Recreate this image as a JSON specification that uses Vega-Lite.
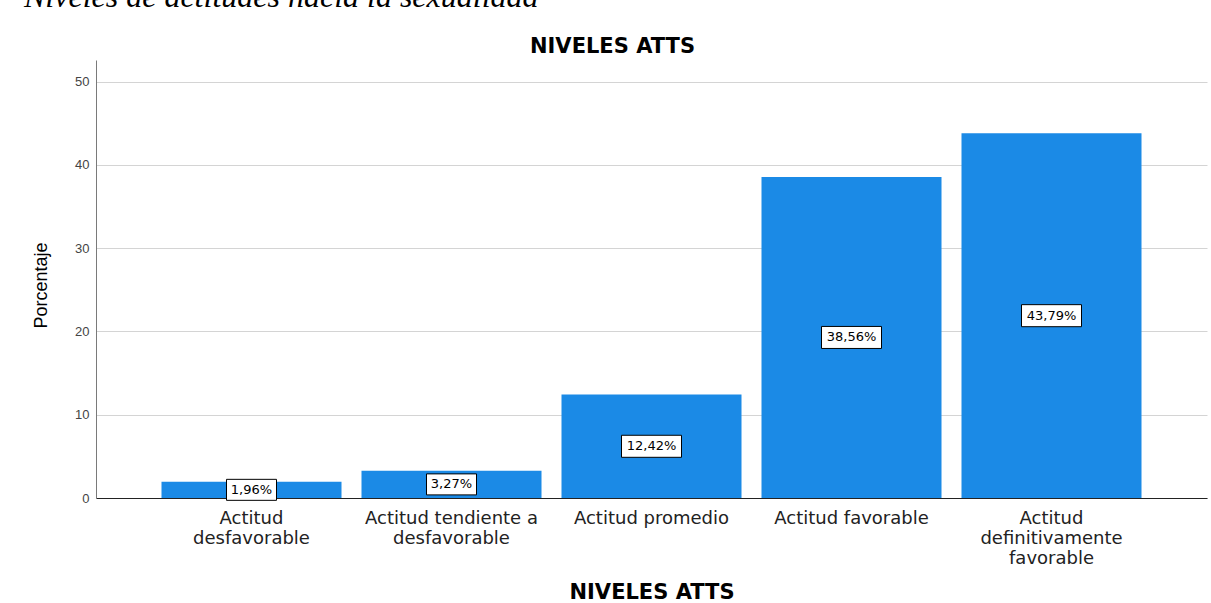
{
  "$schema": "https://vega.github.io/schema/vega-lite/v6.json",
  "width": 1111,
  "height": 438,
  "autosize": {"type": "none"},
  "padding": {"left": 96, "top": 60, "right": 4, "bottom": 105},
  "background": "white",
  "title": {
    "text": "Niveles de actitudes hacia la sexualidad",
    "anchor": "start",
    "font": "Liberation Serif",
    "fontStyle": "italic",
    "fontWeight": "normal",
    "fontSize": 32,
    "color": "black",
    "baseline": "alphabetic",
    "dx": -8,
    "dy": 10,
    "offset": 6
  },
  "data": {
    "values": [
      {"nivel": "Actitud|desfavorable", "pct": 1.96, "label": "1,96%"},
      {"nivel": "Actitud tendiente a|desfavorable", "pct": 3.27, "label": "3,27%"},
      {"nivel": "Actitud promedio", "pct": 12.42, "label": "12,42%"},
      {"nivel": "Actitud favorable", "pct": 38.56, "label": "38,56%"},
      {"nivel": "Actitud|definitivamente|favorable", "pct": 43.79, "label": "43,79%"}
    ]
  },
  "layer": [
    {
      "mark": {"type": "bar", "color": "#1b8ae6"},
      "encoding": {
        "x": {
          "field": "nivel",
          "type": "nominal",
          "sort": null,
          "scale": {
            "domain": ["Actitud|desfavorable", "Actitud tendiente a|desfavorable", "Actitud promedio", "Actitud favorable", "Actitud|definitivamente|favorable"],
            "paddingInner": 0.1,
            "paddingOuter": 0.3275
          },
          "axis": {
            "orient": "bottom",
            "labelExpr": "split(datum.value, '|')",
            "labelAngle": 0,
            "ticks": false,
            "domainColor": "#222222",
            "labelFont": "DejaVu Sans",
            "labelFontSize": 18,
            "labelLineHeight": 20,
            "labelColor": "#222222",
            "labelPadding": 11,
            "labelLimit": 400,
            "labelOverlap": false,
            "labelBound": false,
            "grid": false,
            "title": "NIVELES ATTS",
            "titleFont": "DejaVu Sans",
            "titleFontSize": 21,
            "titleFontWeight": "bold",
            "titleColor": "black",
            "titleBaseline": "alphabetic",
            "titleY": 100
          }
        },
        "y": {
          "field": "pct",
          "type": "quantitative",
          "scale": {"domain": [0, 52.6], "nice": false},
          "axis": {
            "values": [0, 10, 20, 30, 40, 50],
            "grid": true,
            "gridColor": "#d4d4d4",
            "ticks": false,
            "domainColor": "#7a7a7a",
            "labelFont": "Liberation Sans",
            "labelFontSize": 13,
            "labelColor": "#444444",
            "labelPadding": 7,
            "title": "Porcentaje",
            "titleFont": "Liberation Sans",
            "titleFontSize": 18,
            "titleFontWeight": "normal",
            "titleColor": "black",
            "titleX": -46,
            "titleY": 225
          }
        }
      }
    },
    {
      "transform": [{"filter": "datum.pct < 10"}],
      "mark": {"type": "point", "shape": "M-1,-0.42L1,-0.42L1,0.42L-1,0.42Z", "size": 2500, "filled": true, "fill": "white", "stroke": "black", "strokeWidth": 1, "opacity": 1},
      "encoding": {
        "x": {
          "field": "nivel",
          "type": "nominal",
          "sort": null,
          "axis": {
            "orient": "top",
            "labels": false,
            "ticks": false,
            "domain": false,
            "grid": false,
            "title": "NIVELES ATTS",
            "titleFont": "DejaVu Sans",
            "titleFontSize": 21,
            "titleFontWeight": "bold",
            "titleColor": "black",
            "titleBaseline": "alphabetic",
            "titleX": 516,
            "titleY": -8
          }
        },
        "y": {"field": "pct", "type": "quantitative", "scale": {"domain": [0, 105.2], "nice": false}, "axis": null}
      }
    },
    {
      "transform": [{"filter": "datum.pct >= 10"}],
      "mark": {"type": "point", "shape": "M-1,-0.367L1,-0.367L1,0.367L-1,0.367Z", "size": 3600, "filled": true, "fill": "white", "stroke": "black", "strokeWidth": 1, "opacity": 1},
      "encoding": {
        "x": {"field": "nivel", "type": "nominal", "sort": null, "axis": null},
        "y": {"field": "pct", "type": "quantitative", "scale": {"domain": [0, 105.2], "nice": false}, "axis": null}
      }
    },
    {
      "mark": {"type": "text", "font": "DejaVu Sans", "fontSize": 13, "color": "black", "baseline": "middle", "align": "center"},
      "encoding": {
        "x": {"field": "nivel", "type": "nominal", "sort": null, "axis": null},
        "y": {"field": "pct", "type": "quantitative", "scale": {"domain": [0, 105.2], "nice": false}, "axis": null},
        "text": {"field": "label"}
      }
    }
  ],
  "resolve": {"scale": {"y": "independent"}, "axis": {"x": "independent"}},
  "config": {"view": {"stroke": null}}
}
